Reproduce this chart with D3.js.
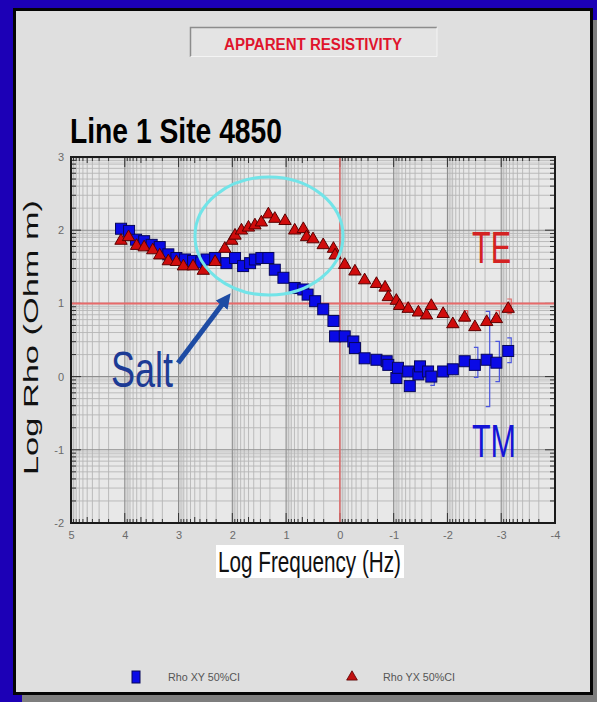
<!DOCTYPE html>
<html>
<head>
<meta charset="utf-8">
<script src="https://cdn.jsdelivr.net/npm/d3@7/dist/d3.min.js"></script>
<style>
  html, body { margin: 0; padding: 0; background: #1c00b6; }
  svg { display: block; }
  text { font-family: "Liberation Sans", Arial, sans-serif; }
</style>
</head>
<body>
<script>
// ---------- data (log10 units) ----------
const xTickValues = [5, 4, 3, 2, 1, 0, -1, -2, -3, -4];
const xTickLabels = ["5", "4", "3", "2", "1", "0", "-1", "-2", "-3", "-4"];
const yTickValues = [3, 2, 1, 0, -1, -2];
const yTickLabels = ["3", "2", "1", "0", "-1", "-2"];

// TM : Rho XY (blue squares)
const tmLogFreq = [4.07, 3.92, 3.79, 3.64, 3.50, 3.35, 3.19, 3.04, 2.88, 2.73, 2.58, 2.48, 2.32, 2.11, 1.95, 1.80, 1.67, 1.58, 1.46, 1.33, 1.21, 1.05, 0.84, 0.68, 0.60, 0.46, 0.31, 0.12, 0.09, -0.09, -0.25, -0.28, -0.46, -0.68, -0.87, -0.90, -1.05, -1.08, -1.27, -1.30, -1.46, -1.49, -1.64, -1.70, -1.92, -2.10, -2.32, -2.51, -2.73, -2.91, -3.13];
const tmLogRho  = [2.02, 1.99, 1.87, 1.85, 1.80, 1.77, 1.67, 1.62, 1.60, 1.58, 1.56, 1.60, 1.62, 1.55, 1.62, 1.51, 1.55, 1.60, 1.62, 1.62, 1.46, 1.35, 1.21, 1.19, 1.12, 1.03, 0.92, 0.76, 0.55, 0.55, 0.48, 0.39, 0.25, 0.23, 0.21, 0.16, -0.02, 0.12, 0.07, -0.13, 0.03, 0.14, 0.07, 0.00, 0.07, 0.10, 0.21, 0.16, 0.23, 0.19, 0.35];

// TE : Rho YX (red triangles)
const teLogFreq = [4.07, 3.93, 3.78, 3.64, 3.48, 3.35, 3.19, 3.04, 2.91, 2.73, 2.54, 2.32, 2.14, 2.01, 1.95, 1.83, 1.70, 1.58, 1.46, 1.33, 1.21, 1.02, 0.84, 0.68, 0.62, 0.50, 0.31, 0.12, 0.09, -0.09, -0.28, -0.46, -0.68, -0.84, -0.90, -1.05, -1.11, -1.27, -1.46, -1.61, -1.70, -1.92, -2.10, -2.32, -2.51, -2.73, -2.91, -3.13];
const teLogRho  = [1.87, 1.92, 1.80, 1.78, 1.74, 1.67, 1.59, 1.58, 1.52, 1.52, 1.46, 1.58, 1.76, 1.87, 1.94, 2.01, 2.05, 2.08, 2.12, 2.23, 2.17, 2.14, 2.01, 2.03, 1.92, 1.89, 1.81, 1.76, 1.67, 1.54, 1.45, 1.33, 1.28, 1.23, 1.10, 1.05, 0.98, 0.94, 0.89, 0.85, 0.98, 0.87, 0.73, 0.82, 0.69, 0.76, 0.80, 0.94];

// 50% confidence brackets
const tmErrFreq = [-1.70, -2.51, -2.73, -2.91, -3.13];
const tmErrLo   = [-0.12, -0.01, -0.41, -0.07, 0.19];
const tmErrHi   = [0.05, 0.40, 0.89, 0.48, 0.53];
const teErrFreq = [-2.32, -2.91, -3.13];
const teErrLo   = [0.76, 0.74, 0.86];
const teErrHi   = [0.90, 0.90, 1.06];

const refLogFreq = 0;   // red vertical line
const refLogRho = 1;    // red horizontal line

const legendLabels = ["Rho XY 50%CI", "Rho YX 50%CI"];
// ---------------------------------------

const W = 597, H = 702;
const svg = d3.select("body").append("svg").attr("width", W).attr("height", H);
const p10 = v => Math.pow(10, v);

// frame
svg.append("rect").attr("x", 0).attr("y", 0).attr("width", W).attr("height", H).attr("fill", "#1c00b6");
svg.append("rect").attr("x", 22).attr("y", 20).attr("width", W - 22).attr("height", H - 20).attr("fill", "#7e7e7e");
svg.append("rect").attr("x", 14.5).attr("y", 9.5).attr("width", 577).attr("height", 684)
  .attr("fill", "#dfdfdf").attr("stroke", "#050505").attr("stroke-width", 3);

// title box
svg.append("rect").attr("x", 190).attr("y", 27).attr("width", 247).attr("height", 30).attr("fill", "#e4e4e4");
svg.append("path").attr("d", "M190.5,57 V27.5 H437").attr("fill", "none").attr("stroke", "#8c8c8c").attr("stroke-width", 1.5);
svg.append("path").attr("d", "M437,27.5 V56.5 H190.5").attr("fill", "none").attr("stroke", "#f4f4f4").attr("stroke-width", 1);
svg.append("text").attr("x", 224).attr("y", 50).attr("font-size", 16).attr("font-weight", "bold")
  .attr("fill", "#e0142c").attr("textLength", 178).attr("lengthAdjust", "spacingAndGlyphs")
  .text("APPARENT RESISTIVITY");

// heading
svg.append("text").attr("x", 70).attr("y", 143).attr("font-size", 35).attr("font-weight", "bold")
  .attr("fill", "#000").attr("textLength", 212).attr("lengthAdjust", "spacingAndGlyphs")
  .text("Line 1 Site 4850");

// scales
const x0 = 71, x1 = 555, y0 = 157, y1 = 523;
const x = d3.scaleLog().domain([p10(5), p10(-4)]).range([x0, x1]);
const y = d3.scaleLog().domain([p10(-2), p10(3)]).range([y1, y0]);

// plot background
svg.append("rect").attr("x", x0).attr("y", y0).attr("width", x1 - x0).attr("height", y1 - y0).attr("fill", "#e8e8e8");

const grid = svg.append("g");
function gridVals(lo, hi, ks) {
  const out = [];
  for (let e = lo; e < hi; e++) ks.forEach(k => out.push(k * p10(e)));
  return out;
}
const subK = [8.5, 9.5];
const minK = [2, 3, 4, 5, 6, 7, 8, 9];
// sub-minor (light) lines
grid.selectAll(".vs").data(gridVals(-4, 5, subK)).enter().append("line")
  .attr("x1", d => x(d)).attr("x2", d => x(d)).attr("y1", y0).attr("y2", y1)
  .attr("stroke", "#d2d2d2").attr("stroke-width", 1);
grid.selectAll(".hs").data(gridVals(-2, 3, subK)).enter().append("line")
  .attr("y1", d => y(d)).attr("y2", d => y(d)).attr("x1", x0).attr("x2", x1)
  .attr("stroke", "#d2d2d2").attr("stroke-width", 1);
// minor lines
grid.selectAll(".vm").data(gridVals(-4, 5, minK)).enter().append("line")
  .attr("x1", d => x(d)).attr("x2", d => x(d)).attr("y1", y0).attr("y2", y1)
  .attr("stroke", "#b6b6b6").attr("stroke-width", 0.9);
grid.selectAll(".hm").data(gridVals(-2, 3, minK)).enter().append("line")
  .attr("y1", d => y(d)).attr("y2", d => y(d)).attr("x1", x0).attr("x2", x1)
  .attr("stroke", "#b6b6b6").attr("stroke-width", 0.9);
// major lines
grid.selectAll(".vM").data(xTickValues.map(p10)).enter().append("line")
  .attr("x1", d => x(d)).attr("x2", d => x(d)).attr("y1", y0).attr("y2", y1)
  .attr("stroke", "#8e8e8e").attr("stroke-width", 1.1);
grid.selectAll(".hM").data(yTickValues.map(p10)).enter().append("line")
  .attr("y1", d => y(d)).attr("y2", d => y(d)).attr("x1", x0).attr("x2", x1)
  .attr("stroke", "#8e8e8e").attr("stroke-width", 1.1);

// inner ticks on all sides
const tk = svg.append("g").attr("stroke", "#333").attr("stroke-width", 1);
const xMinorAll = gridVals(-4, 5, minK), yMinorAll = gridVals(-2, 3, minK);
xMinorAll.forEach(d => {
  const len = (Math.abs(Math.log10(d) % 1 - Math.log10(5) % 1) < 1e-6) ? 6 : 4;
  tk.append("line").attr("x1", x(d)).attr("x2", x(d)).attr("y1", y1).attr("y2", y1 - len);
  tk.append("line").attr("x1", x(d)).attr("x2", x(d)).attr("y1", y0).attr("y2", y0 + len);
});
xTickValues.map(p10).forEach(d => {
  tk.append("line").attr("x1", x(d)).attr("x2", x(d)).attr("y1", y1).attr("y2", y1 - 10);
  tk.append("line").attr("x1", x(d)).attr("x2", x(d)).attr("y1", y0).attr("y2", y0 + 10);
});
yMinorAll.forEach(d => {
  tk.append("line").attr("y1", y(d)).attr("y2", y(d)).attr("x1", x0).attr("x2", x0 + 5);
  tk.append("line").attr("y1", y(d)).attr("y2", y(d)).attr("x1", x1).attr("x2", x1 - 5);
});
yTickValues.map(p10).forEach(d => {
  tk.append("line").attr("y1", y(d)).attr("y2", y(d)).attr("x1", x0).attr("x2", x0 + 10);
  tk.append("line").attr("y1", y(d)).attr("y2", y(d)).attr("x1", x1).attr("x2", x1 - 10);
});

// red reference lines
svg.append("line").attr("x1", x(p10(refLogFreq))).attr("x2", x(p10(refLogFreq))).attr("y1", y0).attr("y2", y1)
  .attr("stroke", "#e86a6a").attr("stroke-width", 1.4);
svg.append("line").attr("y1", y(p10(refLogRho))).attr("y2", y(p10(refLogRho))).attr("x1", x0).attr("x2", x1)
  .attr("stroke", "#e86a6a").attr("stroke-width", 2);

// plot border
svg.append("rect").attr("x", x0).attr("y", y0).attr("width", x1 - x0).attr("height", y1 - y0)
  .attr("fill", "none").attr("stroke", "#1a1a1a").attr("stroke-width", 2);

// axis labels (tick labels)
const xAxis = d3.axisBottom(x).tickValues(xTickValues.map(p10))
  .tickFormat((d, i) => xTickLabels[i]).tickSize(0).tickPadding(8);
const gx = svg.append("g").attr("transform", `translate(0,${y1})`).call(xAxis);
gx.select(".domain").remove();
gx.selectAll("text").attr("fill", "#6a6a6a").attr("font-size", 11).attr("font-family", "Liberation Sans, Arial, sans-serif");

const yAxis = d3.axisLeft(y).tickValues(yTickValues.map(p10))
  .tickFormat((d, i) => yTickLabels[i]).tickSize(0).tickPadding(7);
const gy = svg.append("g").attr("transform", `translate(${x0},0)`).call(yAxis);
gy.select(".domain").remove();
gy.selectAll("text").attr("fill", "#6a6a6a").attr("font-size", 11).attr("font-family", "Liberation Sans, Arial, sans-serif");

// x title with white box
svg.append("rect").attr("x", 216).attr("y", 545).attr("width", 188).attr("height", 33).attr("fill", "#ffffff");
svg.append("text").attr("x", 218).attr("y", 572).attr("font-size", 29).attr("fill", "#111")
  .attr("textLength", 183).attr("lengthAdjust", "spacingAndGlyphs").text("Log Frequency (Hz)");

// y title
svg.append("text").attr("transform", "translate(38,475) rotate(-90)").attr("font-size", 21).attr("fill", "#111")
  .attr("textLength", 275).attr("lengthAdjust", "spacingAndGlyphs").text("Log Rho (Ohm m)");

// error brackets
function bracket(g, f, lo, hi, color) {
  const cx = x(p10(f)) + 3;
  g.append("path")
    .attr("d", `M${cx - 4},${y(p10(hi))} H${cx} V${y(p10(lo))} H${cx - 4}`)
    .attr("fill", "none").attr("stroke", color).attr("stroke-width", 1.2);
}
const eg = svg.append("g");
tmErrFreq.forEach((f, i) => bracket(eg, f, tmErrLo[i], tmErrHi[i], "#4a55dd"));
teErrFreq.forEach((f, i) => bracket(eg, f, teErrLo[i], teErrHi[i], "#e06464"));

// TM squares
const sq = 11;
svg.append("g").selectAll("rect").data(tmLogFreq.map((f, i) => [f, tmLogRho[i]])).enter().append("rect")
  .attr("x", d => x(p10(d[0])) - sq / 2).attr("y", d => y(p10(d[1])) - sq / 2)
  .attr("width", sq).attr("height", sq)
  .attr("fill", "#0a0ae6").attr("stroke", "#07075a").attr("stroke-width", 1);

// TE triangles
const tri = d3.symbol().type(d3.symbolTriangle).size(66);
svg.append("g").selectAll("path").data(teLogFreq.map((f, i) => [f, teLogRho[i]])).enter().append("path")
  .attr("d", tri).attr("transform", d => `translate(${x(p10(d[0]))},${y(p10(d[1])) + 1})`)
  .attr("fill", "#d00c0c").attr("stroke", "#5a0000").attr("stroke-width", 1);

// cyan ellipse
svg.append("ellipse").attr("cx", 269).attr("cy", 236).attr("rx", 74).attr("ry", 59)
  .attr("fill", "none").attr("stroke", "#72e4e8").attr("stroke-width", 3);

// Salt arrow
svg.append("defs").append("marker").attr("id", "ah").attr("viewBox", "0 0 10 10")
  .attr("refX", 6).attr("refY", 5).attr("markerWidth", 3).attr("markerHeight", 3).attr("orient", "auto")
  .append("path").attr("d", "M0,0 L10,5 L0,10 z").attr("fill", "#1e4ca4");
svg.append("line").attr("x1", 178).attr("y1", 363).attr("x2", 227).attr("y2", 298)
  .attr("stroke", "#1e4ca4").attr("stroke-width", 5).attr("marker-end", "url(#ah)");
svg.append("text").attr("x", 111).attr("y", 387).attr("font-size", 50).attr("fill", "#1d3b95")
  .attr("textLength", 62).attr("lengthAdjust", "spacingAndGlyphs").text("Salt");

// TE / TM labels
svg.append("text").attr("x", 472).attr("y", 263).attr("font-size", 45).attr("fill", "#d42222")
  .attr("textLength", 39).attr("lengthAdjust", "spacingAndGlyphs").text("TE");
svg.append("text").attr("x", 472).attr("y", 457).attr("font-size", 47).attr("fill", "#1414d6")
  .attr("textLength", 44).attr("lengthAdjust", "spacingAndGlyphs").text("TM");

// legend
svg.append("rect").attr("x", 132).attr("y", 671).attr("width", 8).attr("height", 12)
  .attr("fill", "#0a0ae6").attr("stroke", "#07075a").attr("stroke-width", 1);
svg.append("text").attr("x", 168).attr("y", 681).attr("font-size", 10).attr("fill", "#555")
  .attr("textLength", 72).attr("lengthAdjust", "spacingAndGlyphs").text(legendLabels[0]);
svg.append("path").attr("d", d3.symbol().type(d3.symbolTriangle).size(50))
  .attr("transform", "translate(352,677)").attr("fill", "#c01010").attr("stroke", "#5a0000").attr("stroke-width", 0.8);
svg.append("text").attr("x", 383).attr("y", 681).attr("font-size", 10).attr("fill", "#555")
  .attr("textLength", 72).attr("lengthAdjust", "spacingAndGlyphs").text(legendLabels[1]);
</script>
</body>
</html>
